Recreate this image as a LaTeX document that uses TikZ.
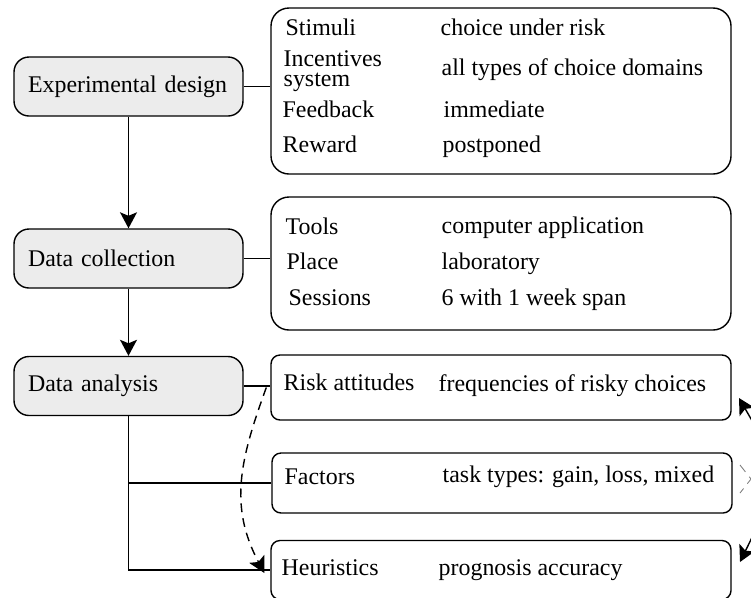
\documentclass[tikz,border=0pt]{standalone}
\usepackage{fontspec}
\setmainfont{Liberation Serif}
\usetikzlibrary{arrows.meta}

\tikzset{
  stage/.style={rectangle, draw, rounded corners=0.3cm, fill=gray!15,
    minimum height=1.18cm, text width=4.02cm, inner xsep=0.28cm, align=left},
  panel/.style={rectangle, draw, minimum width=9.2cm},
  lbl/.style={inner sep=0pt, anchor=base west},
  arr/.style={-{Stealth[length=0.32cm, width=0.34cm, inset=0.07cm]}},
  longdash/.style={dash pattern=on 5pt off 3.5pt},
}

\begin{document}
\begin{tikzpicture}[line width=0.8pt,
    every node/.style={font=\fontsize{13.6}{16}\selectfont}]

    \useasboundingbox (0,0) rectangle (15.02,-11.94);
    \clip (0,0) rectangle (15.02,-11.94);

    \node[stage] (exp) at (2.57,-1.73) {Experimental design};
    \node[stage] (coll) at (2.57,-5.17) {Data collection};
    \node[stage] (ana) at (2.57,-7.72) {Data analysis};

    \node[panel, rounded corners=0.36cm,
      minimum height=3.32cm] (design) at (10.02,-1.82) {};
    \node[panel, rounded corners=0.36cm,
      minimum height=2.66cm] (collect) at (10.02,-5.27) {};
    \node[panel, rounded corners=0.18cm,
      minimum height=1.3cm] (risk) at (10.02,-7.75) {};
    \node[panel, rounded corners=0.18cm,
      minimum height=1.2cm] (fac) at (10.04,-9.66) {};
    \node[panel, rounded corners=0.18cm,
      minimum height=1.18cm] (heur) at (10.02,-11.40) {};

    \node[lbl] (stim) at (5.70,-0.70) {Stimuli};
    \node[lbl] (stimv) at (8.80,-0.70) {choice under risk};
    \node[lbl, anchor=west, align=left,
      font=\fontsize{13.6}{11.5}\selectfont] (inc) at (5.66,-1.42) {Incentives\\system};
    \node[lbl] (incv) at (8.82,-1.50) {all types of choice domains};
    \node[lbl] (feed) at (5.64,-2.34) {Feedback};
    \node[lbl] (feedv) at (8.86,-2.34) {immediate};
    \node[lbl] (rew) at (5.64,-3.04) {Reward};
    \node[lbl] (rewv) at (8.84,-3.04) {postponed};

    \node[lbl] (tool) at (5.70,-4.68) {Tools};
    \node[lbl] (toolv) at (8.82,-4.66) {computer application};
    \node[lbl] (place) at (5.72,-5.39) {Place};
    \node[lbl] (placev) at (8.82,-5.38) {laboratory};
    \node[lbl] (sess) at (5.76,-6.10) {Sessions};
    \node[lbl] (sessv) at (8.82,-6.10) {6 with 1 week span};

    \node[lbl] (att) at (5.66,-7.80) {Risk attitudes};
    \node[lbl] (attv) at (8.76,-7.82) {frequencies of risky choices};
    \node[lbl] (fact) at (5.68,-9.68) {Factors};
    \node[lbl] (factv) at (8.84,-9.64) {task types: gain, loss, mixed};
    \node[lbl] (heu) at (5.62,-11.50) {Heuristics};
    \node[lbl] (heuv) at (8.76,-11.50) {prognosis accuracy};

    \draw (exp.east) -- (exp.east -| design.west);
    \draw (coll.east) -- (coll.east -| collect.west);
    \draw (ana.east) -- (ana.east -| risk.west);
    \draw[arr] (exp) -- (coll);
    \draw[arr] (coll) -- (ana);
    \draw (ana.south) |- (fac.west);
    \draw (ana.south) |- (heur.west);
    \draw[longdash, arr] ([xshift=-0.08cm]risk.west)
      to[out=250, in=118, looseness=1.05] ([xshift=-0.12cm, yshift=-0.06cm]heur.west);

    \coordinate (riskfrom) at (15.28,-8.83);
    \coordinate (riskin) at (14.78,-7.96);
    \coordinate (heurfrom) at (15.24,-10.34);
    \coordinate (heurin) at (14.80,-11.24);
    \draw[arr] (riskfrom) -- (riskin);
    \draw[arr] (heurfrom) -- (heurin);
    \draw[longdash, gray, line width=0.5pt] (14.80,-9.30) -- (15.02,-9.58) -- (14.80,-9.86);
\end{tikzpicture}
\end{document}
